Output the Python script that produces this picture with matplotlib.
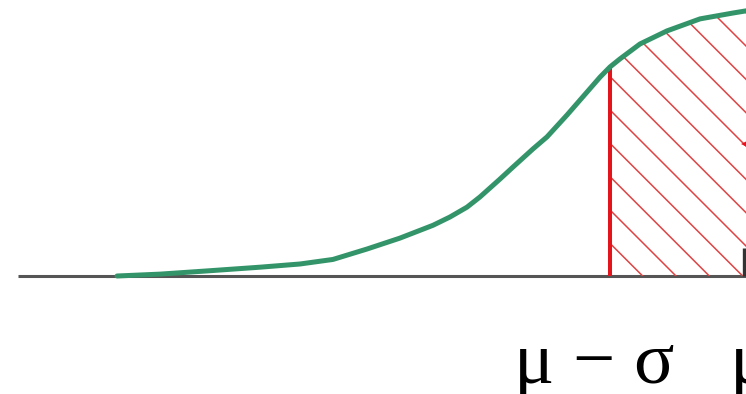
import matplotlib
matplotlib.use("Agg")
import matplotlib.pyplot as plt

# Curve: x in sigma units (mu = 0), y relative density
curve_x = [-4.521, -4.214, -3.879, -3.500, -3.214, -2.979, -2.736, -2.500, -2.264,
           -2.143, -2.021, -1.929, -1.786, -1.693, -1.550, -1.450, -1.307, -1.214,
           -1.071, -1.000, -0.929, -0.786, -0.593, -0.357, -0.121, -0.029, 0.143]
curve_y = [0.000, 0.007, 0.019, 0.033, 0.045, 0.062, 0.101, 0.142, 0.190,
           0.221, 0.258, 0.296, 0.363, 0.408, 0.476, 0.521, 0.603, 0.659,
           0.745, 0.783, 0.813, 0.869, 0.918, 0.963, 0.985, 0.993, 0.996]
shade_from = -1.0
labels = ["μ − σ", "μ"]
label_x = [-1.11, 0.0]

plt.rcParams['hatch.linewidth'] = 0.55
fig = plt.figure(figsize=(3.73, 1.97), dpi=200)
ax = fig.add_axes([0, 0, 1, 1])
ax.set_xlim(-750 / 140, -4 / 140)
ax.set_ylim((276 - 394) / 267, 276 / 267)
ax.axis('off')

# baseline
ax.plot([-5.23, 0.5], [0, 0], color='#555555', lw=1.1, solid_capstyle='butt', zorder=1)

# hatched area
xs = [x for x in curve_x if x >= shade_from]
ys = [y for x, y in zip(curve_x, curve_y) if x >= shade_from]
ax.fill_between(xs, 0, ys, facecolor='none', edgecolor='#dd4444', hatch='\\\\', lw=0, zorder=2)

# red vertical at mu - sigma
y_at = curve_y[curve_x.index(shade_from)]
ax.plot([shade_from, shade_from], [0, y_at], color='#e3141c', lw=1.45, solid_capstyle='butt', zorder=3)

# curve
ax.plot(curve_x, curve_y, color='#33946a', lw=1.8, solid_capstyle='round',
        solid_joinstyle='round', zorder=4)

# short dark segment near mu
ax.plot([-0.043, -0.043], [0, 0.105], color='#333333', lw=1.2, solid_capstyle='butt', zorder=3)

# red arrowhead pointing left (cut by the right edge)
ax.plot([-0.02], [0.494], marker='<', color='#e3141c', markersize=4.2, mew=0,
        clip_on=False, zorder=5)

for t, x in zip(labels, label_x):
    ax.text(x, -0.40, t, ha='center', va='baseline', fontsize=27,
            family=['Liberation Serif', 'DejaVu Serif'], color='black')

fig.savefig('out.png', dpi=200)
